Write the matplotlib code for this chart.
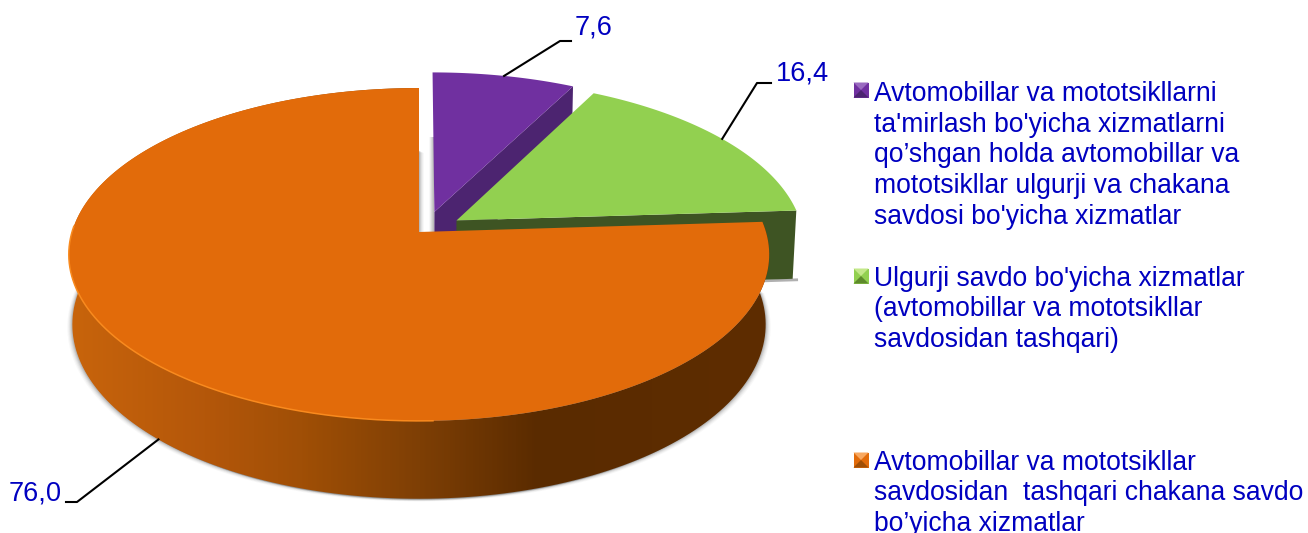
import numpy as np
import matplotlib
matplotlib.use('Agg')
import matplotlib.pyplot as plt
from matplotlib.colors import LinearSegmentedColormap
from matplotlib.patches import Polygon

plt.rcParams['font.family'] = ['Liberation Sans', 'DejaVu Sans']

qiymatlar = [7.6, 16.4, 76.0]
nomlar = [
    "Avtomobillar va mototsikllarni\nta'mirlash bo'yicha xizmatlarni\nqo’shgan holda avtomobillar va\nmototsikllar ulgurji va chakana\nsavdosi bo'yicha xizmatlar",
    "Ulgurji savdo bo'yicha xizmatlar\n(avtomobillar va mototsikllar\nsavdosidan tashqari)",
    "Avtomobillar va mototsikllar\nsavdosidan  tashqari chakana savdo\nbo’yicha xizmatlar",
]
yuz_rang = ['#7030A0', '#92D050', '#E26B0A']
devor_rang = ['#4C2470', '#3E5423', '#7E3F05']
surilish = [(0.045, 0.125), (0.109, 0.071), (0.0, 0.0)]
matn_rang = '#0000C0'

# perspektiva parametrlari (piksel)
cx, cy = 419, 232
rx, ry = 347, 163.4
k, kz, h = 0.135, 0.01, 70


def loyiha(u, v, z=0):
    w = 1 + k * v + kz * z
    return cx + rx * u / w, cy + (h * z - ry * v) / w


def yoy(t1, t2, du, dv, z=0, n=200):
    t = np.radians(np.linspace(t1, t2, n))
    x, y = loyiha(du + np.cos(t), dv + np.sin(t), z)
    return np.column_stack([x, y])


fig = plt.figure(figsize=(13.08, 5.33), dpi=100)
ax = fig.add_axes([0, 0, 1, 1])
ax.set_axis_off()

# burchaklar qiymatlardan
burchak = 90 - 3.6 * np.cumsum([0] + qiymatlar)
t_bosh = burchak[:-1]
t_oxir = burchak[1:]

# orange tilim soyasi
yuqori_or = yoy(t_oxir[2], t_bosh[2], *surilish[2])
pastki_or = yoy(t_oxir[2], t_bosh[2], *surilish[2], z=1)
soya_shakl = np.vstack([pastki_or, [loyiha(*surilish[2], 1)]])
for d, a in [(5, 0.04), (4, 0.06), (3, 0.08), (2, 0.12), (1, 0.18)]:
    ax.add_patch(Polygon(soya_shakl + [-d, d * 0.5], closed=True, fc='#505050', ec='none', alpha=a, zorder=1))
    ax.add_patch(Polygon(soya_shakl + [d, d * 0.5], closed=True, fc='#505050', ec='none', alpha=a, zorder=1))

# binafsha oldidagi kulrang soya
soya = LinearSegmentedColormap.from_list('soya', ['#b4b4b4', '#ffffff'])
ax.imshow(np.linspace(1, 0, 20).reshape(1, -1), extent=(429, 434, 232, 137), cmap=soya, aspect='auto', zorder=1)

# binafsha va yashil: devor keyin yuz
for i, z_ in [(0, 2), (1, 3)]:
    du, dv = surilish[i]
    c_, s_ = np.cos(np.radians(t_oxir[i])), np.sin(np.radians(t_oxir[i]))
    tepa = loyiha(du, dv)
    uch = loyiha(du + c_, dv + s_)
    uch_past = loyiha(du + c_, dv + s_, 1)
    tepa_past = loyiha(du, dv, 1)
    ax.add_patch(Polygon([tepa, uch, uch_past, tepa_past], closed=True, fc=devor_rang[i], ec='none', zorder=z_))
    if i == 1:
        ax.plot([tepa_past[0], uch_past[0] + 4], [tepa_past[1] + 1, uch_past[1] + 1], color='#b0b0b0', lw=2, zorder=z_ - 0.5)
for i, z_ in [(0, 4), (1, 5)]:
    du, dv = surilish[i]
    ax.add_patch(Polygon(np.vstack([[loyiha(du, dv)], yoy(t_bosh[i], t_oxir[i], du, dv)]),
                         closed=True, fc=yuz_rang[i], ec='none', zorder=z_))

# orange devor - gradient
devor = Polygon(np.vstack([yuqori_or, pastki_or[::-1]]), closed=True, fc='none', ec='none', zorder=6)
ax.add_patch(devor)
gradient = LinearSegmentedColormap.from_list('devor', [
    (0.00, '#C8640C'), (0.19, '#B4570A'), (0.33, '#A04F06'), (0.50, '#7E3F05'),
    (0.67, '#5A2B00'), (1.00, '#5E2D00')])
rasm = ax.imshow(np.linspace(0, 1, 400).reshape(1, -1), extent=(70, 770, 510, 80), cmap=gradient, aspect='auto', zorder=6)
rasm.set_clip_path(devor)

# orange yuz
ax.add_patch(Polygon(np.vstack([[loyiha(*surilish[2])], yoy(t_bosh[2], t_oxir[2], *surilish[2])]),
                     closed=True, fc=yuz_rang[2], ec='none', zorder=7))
chekka = yoy(178, 272, *surilish[2])
ax.plot(chekka[:, 0], chekka[:, 1], color='#F98A1E', lw=1.1, zorder=8)

# yorliqlar va chiziqlar
tirsak = [[(560, 41), (571, 41)], [(757, 83), (771, 83)], [(77, 502), (66, 502)]]
yorliq_xy = [(594, 27), (802, 74), (35, 494)]
for i, v in enumerate(qiymatlar):
    o = np.radians((t_bosh[i] + t_oxir[i]) / 2)
    du, dv = surilish[i]
    bosh = loyiha(du + np.cos(o), dv + np.sin(o), 1 if i == 2 else 0)
    yo = np.array([bosh] + tirsak[i])
    ax.plot(yo[:, 0], yo[:, 1], color='black', lw=1.5, zorder=9)
    ax.text(*yorliq_xy[i], str(v).replace('.', ','), color=matn_rang, fontsize=19.6, ha='center', va='center', zorder=10)

# legenda
marker_xy = [(861, 90), (861, 276), (861, 460)]
blok_y = [155.5, 309.5, 493.5]
ochiq = ['#9A6BC0', '#C4E88A', '#F8A860']
qora = ['#4C2470', '#5E8A2C', '#A04F06']
for i in range(3):
    mx, my = marker_xy[i]
    s = 7.5
    a, b, c, d = (mx - s, my - s), (mx + s, my - s), (mx + s, my + s), (mx - s, my + s)
    m = (mx, my)
    ax.add_patch(Polygon([a, b, c, d], closed=True, fc=yuz_rang[i], ec='none', zorder=9))
    ax.add_patch(Polygon([a, b, m], closed=True, fc=ochiq[i], ec='none', zorder=10))
    ax.add_patch(Polygon([c, d, m], closed=True, fc=qora[i], ec='none', zorder=10))
    ax.text(874, blok_y[i], nomlar[i], color=matn_rang, fontsize=19.1, ha='left', va='center',
            linespacing=1.24, zorder=10)

ax.set_xlim(0, 1308)
ax.set_ylim(533, 0)

fig.savefig('out.png', dpi=100)
